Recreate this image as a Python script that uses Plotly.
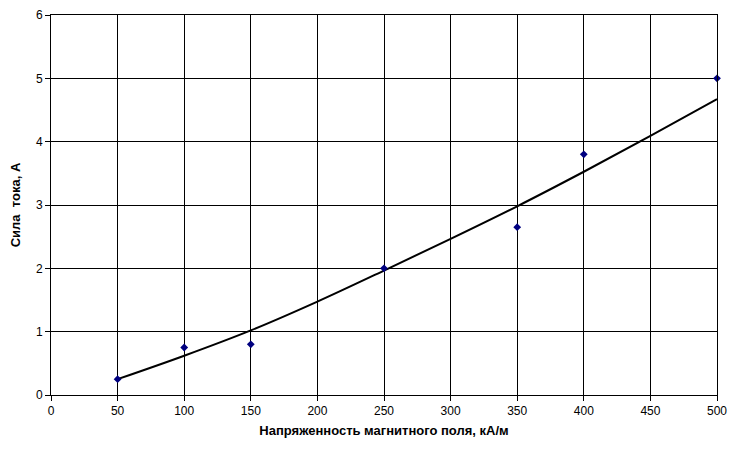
import plotly.graph_objects as go

x_points = [50, 100, 150, 250, 350, 400, 500]
y_points = [0.25, 0.75, 0.80, 2.00, 2.65, 3.80, 5.00]

trend_x = [50, 100, 150, 200, 250, 300, 350, 400, 450, 500]
trend_y = [0.25, 0.62, 1.02, 1.475, 1.965, 2.465, 2.98, 3.525, 4.09, 4.67]

x_ticks = [0, 50, 100, 150, 200, 250, 300, 350, 400, 450, 500]
y_ticks = [0, 1, 2, 3, 4, 5, 6]

fig = go.Figure()
fig.add_trace(go.Scatter(x=trend_x, y=trend_y, mode="lines",
                         line=dict(color="black", width=2, shape="spline", smoothing=1),
                         hoverinfo="skip", showlegend=False))
fig.add_trace(go.Scatter(x=x_points, y=y_points, mode="markers",
                         marker=dict(symbol="diamond", size=6, color="#000080"),
                         cliponaxis=False, showlegend=False))

font_family = "Liberation Sans, Arial, sans-serif"
fig.update_layout(
    width=731, height=451,
    margin=dict(l=51, r=14, t=15, b=56),
    paper_bgcolor="white", plot_bgcolor="white",
    font=dict(family=font_family, size=12, color="black"),
    xaxis=dict(range=[0, 500], tickvals=x_ticks, ticks="outside", ticklen=5,
               tickcolor="black", showgrid=True, gridcolor="black", gridwidth=1,
               showline=True, linecolor="black", linewidth=1, mirror=True,
               zeroline=False, automargin=False,
               title=dict(text="<b>Напряженность магнитного поля, кА/м</b>",
                          font=dict(size=13), standoff=8)),
    yaxis=dict(range=[0, 6], tickvals=y_ticks, ticks="outside", ticklen=5,
               tickcolor="black", showgrid=True, gridcolor="black", gridwidth=1,
               showline=True, linecolor="black", linewidth=1, mirror=True,
               zeroline=False, automargin=False,
               title=dict(text="<b>Сила  тока, А</b>", font=dict(size=13),
                          standoff=12)),
)

fig.write_html("out.html", config={"displayModeBar": False},
               post_script="document.body.style.margin='0';")
